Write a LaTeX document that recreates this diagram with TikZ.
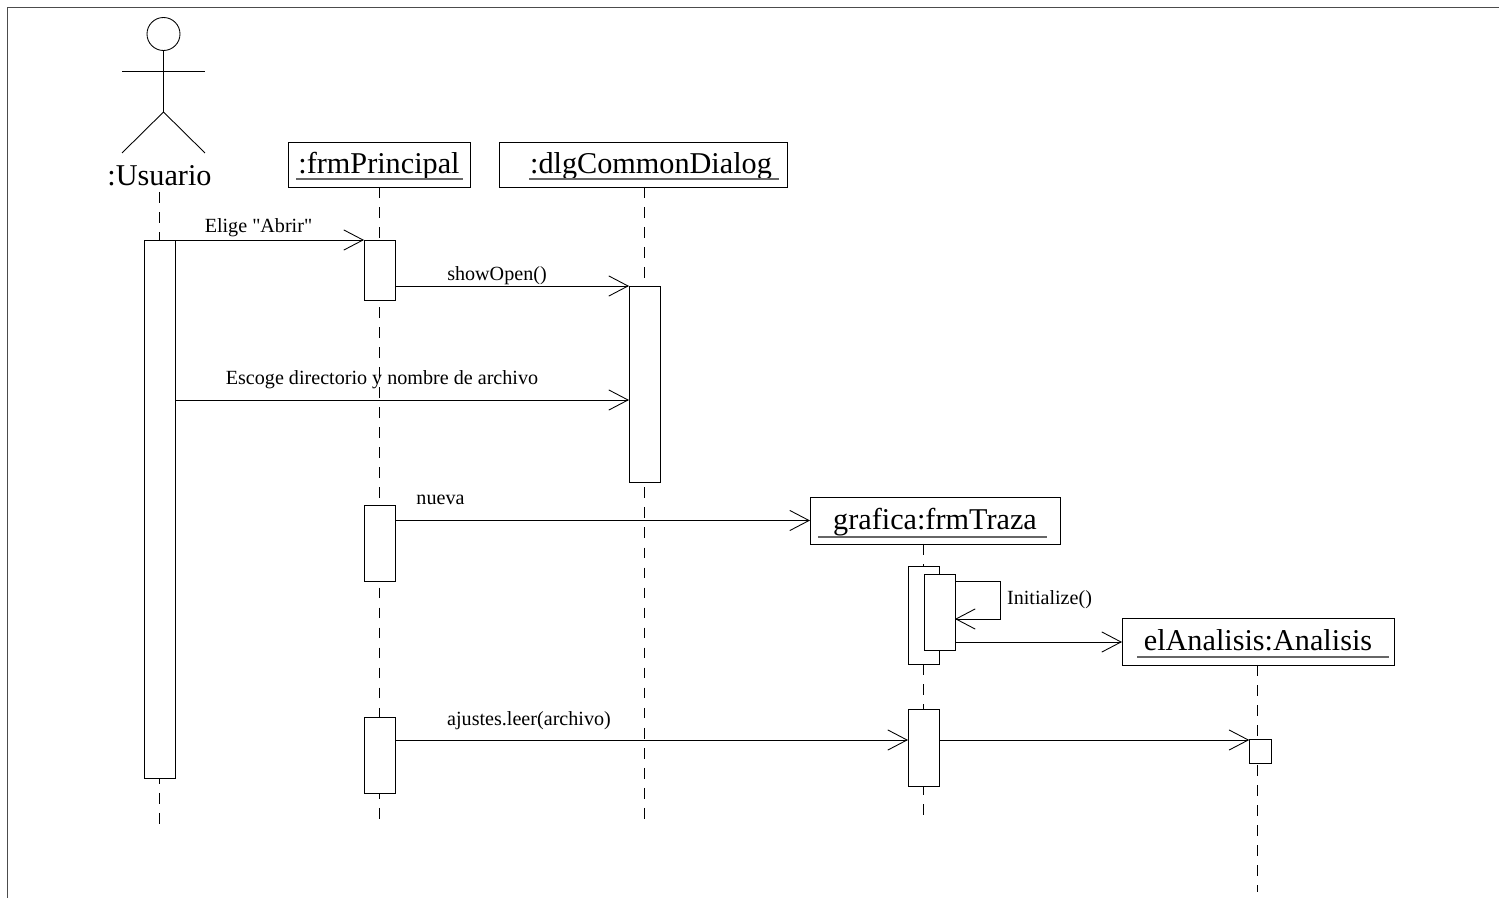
\documentclass[tikz,border=0pt]{standalone}
\usepackage{fontspec}
\setmainfont{Liberation Serif}[Ligatures=TeXOff]
\usetikzlibrary{arrows.meta}
\newcommand{\ux}{0.02cm}
\tikzset{
	obj/.style={draw,fill=white,inner sep=0pt,outer sep=0pt,font=\fontsize{17.2}{20}\selectfont,text height=12pt,text depth=1.6pt},
	bar/.style={draw,fill=white,inner sep=0pt,outer sep=0pt,anchor=north,minimum width=31*\ux},
	msgtext/.style={inner sep=0pt,anchor=base,font=\fontsize{11.45}{13}\selectfont},
	life/.style={dash pattern=on 6.1pt off 5.3pt},
	msg/.style={->},
	uline/.style={line width=.7pt,black!60}
}
\begin{document}
\begin{tikzpicture}[x=\ux,y=-\ux,line width=.5pt,>={Straight Barb[length=11pt,width=11.5pt,line width=.5pt]}]
	\useasboundingbox (0,0) rectangle (1499,898);
	\fill[white] (0,0) rectangle (1499,898);
	\coordinate (frameA) at (7.5,898);
	\coordinate (frameB) at (7.5,7);
	\coordinate (frameC) at (1499,7);
	\draw[black!70] (frameA)--(frameB)--(frameC);

	\node[draw,circle,inner sep=0pt,outer sep=0pt,minimum size=33*\ux] (uHead) at (163.5,34) {};
	\coordinate (uHip) at (163.5,112);
	\coordinate (uArmL) at (122,71);
	\coordinate (uArmR) at (205,71);
	\coordinate (uLegL) at (122,153);
	\coordinate (uLegR) at (205,153);
	\draw (uHead.south)--(uHip);
	\draw (uArmL)--(uArmR);
	\draw (uLegL)--(uHip)--(uLegR);
	\node[inner sep=0pt,anchor=base,font=\fontsize{17.2}{20}\selectfont] (uName) at (159.5,186) {:Usuario};

	\node[obj,minimum width=182*\ux,minimum height=45*\ux] (pBox) at (379,164.5) {:frmPrincipal};
	\node[obj,minimum width=288*\ux,minimum height=45*\ux] (dBox) at (643,164.5) {\hspace*{16\dimexpr\ux\relax}:dlgCommonDialog};
	\node[obj,minimum width=250*\ux,minimum height=47*\ux] (gBox) at (935,520.5) {grafica:frmTraza};
	\node[obj,minimum width=272*\ux,minimum height=47*\ux] (aBox) at (1258,641.5) {elAnalisis:Analisis};

	\coordinate (uStart) at (159,192);
	\coordinate (uEnd) at (159,825);
	\coordinate (pEnd) at (379,825);
	\coordinate (dEnd) at (644,825);
	\coordinate (gEnd) at (923.5,816);
	\coordinate (aEnd) at (1257,892);
	\draw[life] (uStart)--(uEnd);
	\draw[life] (pBox.south)--(pEnd);
	\draw[life] (dBox.south -| dEnd)--(dEnd);
	\draw[life] (gBox.south -| gEnd)--(gEnd);
	\draw[life] (aBox.south -| aEnd)--(aEnd);

	\draw[uline] (296,179)--(463,179);
	\draw[uline] (529,179)--(779,179);
	\draw[uline] (818,537)--(1047,537);
	\draw[uline] (1137,657)--(1389,657);

	\node[bar,minimum height=538*\ux] (uBar) at (159.5,240) {};
	\node[bar,minimum height=60*\ux] (pBarA) at (379.5,240) {};
	\node[bar,minimum height=76*\ux] (pBarB) at (379.5,505) {};
	\node[bar,minimum height=76*\ux] (pBarC) at (379.5,717) {};
	\node[bar,minimum height=196*\ux] (dBar) at (644.5,286) {};
	\node[bar,minimum height=98*\ux] (gBarA) at (923.5,566) {};
	\node[bar,minimum height=76*\ux] (gBarB) at (939.5,574) {};
	\node[bar,minimum height=77*\ux] (gBarC) at (923.5,709) {};
	\node[bar,minimum width=22.5*\ux,minimum height=24*\ux] (aBar) at (1260.5,739) {};

	\coordinate (loopA) at (1000,581);
	\coordinate (loopB) at (1000,619);
	\draw[msg] (uBar.north east)--(pBarA.north west);
	\draw[msg] (pBarA.east |- dBar.north)--(dBar.north west);
	\draw[msg] (uBar.east |- 0,400)--(dBar.west |- 0,400);
	\draw[msg] (pBarB.east |- gBox.west)--(gBox.west);
	\draw[msg] (gBarB.east |- loopA)--(loopA)--(loopB)--(gBarB.east |- loopB);
	\draw[msg] (gBarB.east |- 0,642)--(aBox.west |- 0,642);
	\draw[msg] (pBarC.east |- 0,740)--(gBarC.west |- 0,740);
	\draw[msg] (gBarC.east |- 0,740)--(aBar.west |- 0,740);

	\node[msgtext] (mAbrir) at (258.5,233) {Elige "Abrir"};
	\node[msgtext] (mOpen) at (497,281) {showOpen()};
	\node[msgtext] (mEscoge) at (382,385) {Escoge directorio y nombre de archivo};
	\node[msgtext] (mNueva) at (440.5,505) {nueva};
	\node[msgtext] (mInit) at (1049.5,604) {Initialize()};
	\node[msgtext] (mLeer) at (529,725) {ajustes.leer(archivo)};
\end{tikzpicture}
\end{document}
